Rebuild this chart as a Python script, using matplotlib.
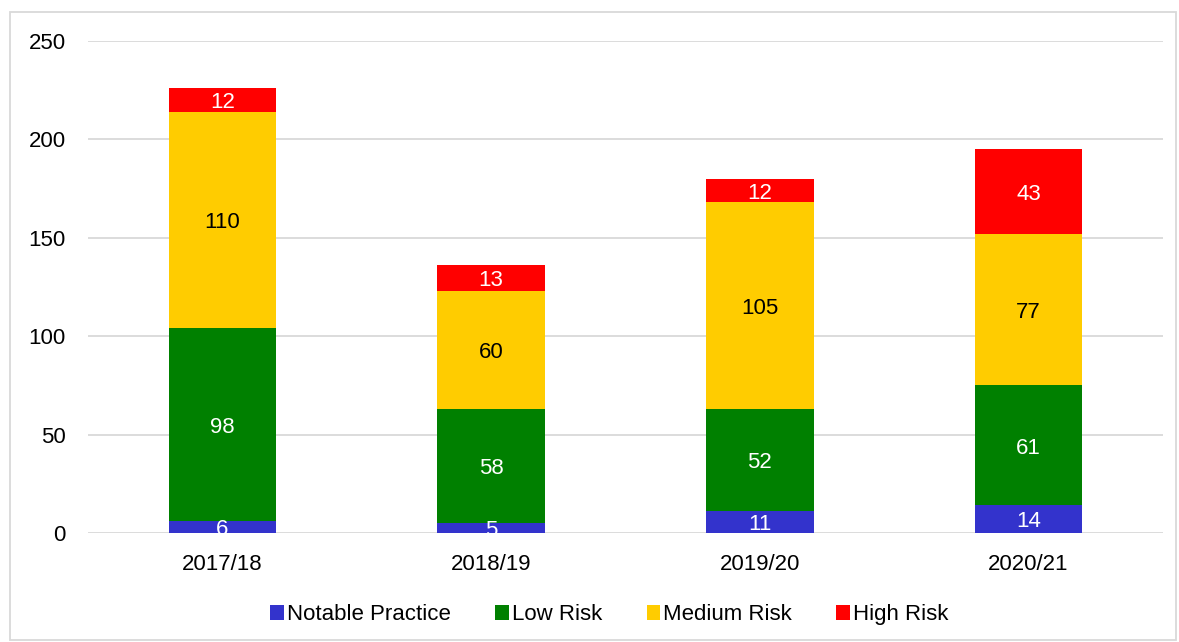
import matplotlib.pyplot as plt
import numpy as np
from matplotlib.patches import Rectangle

plt.rcParams['font.family'] = ['Liberation Sans', 'DejaVu Sans']

years = ['2017/18', '2018/19', '2019/20', '2020/21']
notable = [6, 5, 11, 14]
low = [98, 58, 52, 61]
medium = [110, 60, 105, 77]
high = [12, 13, 12, 43]

series = [
    ('Notable Practice', notable, '#3333CC', 'white'),
    ('Low Risk', low, '#008000', 'white'),
    ('Medium Risk', medium, '#FFCC00', 'black'),
    ('High Risk', high, '#FF0000', 'white'),
]

fig = plt.figure(figsize=(11.79, 6.42), dpi=100)
ax = fig.add_axes([0.0746, 0.1698, 0.9118, 0.7662])

x = np.arange(len(years))
bottom = np.zeros(len(years))
for name, vals, color, txt in series:
    bars = ax.bar(x, vals, 0.4, bottom=bottom, color=color, label=name, zorder=3)
    for xi, b, v in zip(x, bottom, vals):
        ax.annotate(str(v), (xi, b + v / 2), xytext=(0, -2), textcoords='offset points',
                    ha='center', va='center', color=txt, fontsize=16, zorder=4)
    bottom += np.array(vals)

ax.set_xlim(-0.5, 3.5)
ax.set_ylim(0, 250)
ax.set_yticks(range(0, 251, 50))
ax.set_xticks(x)
ax.set_xticklabels(years)
ax.tick_params(length=0, labelsize=16)
ax.tick_params(axis='y', pad=16)
ax.tick_params(axis='x', pad=15)
ax.grid(axis='y', color='#D9D9D9', linewidth=1.3, zorder=0)
for s in ax.spines.values():
    s.set_visible(False)

ax.legend(loc='upper center', bbox_to_anchor=(0.485, -0.104), ncol=4, frameon=False,
          fontsize=16, handlelength=0.6, handleheight=0.7, handletextpad=0.15,
          columnspacing=2.0)

fig.patches.append(Rectangle((10 / 1179, 2 / 642), 1166 / 1179, 628 / 642,
                             transform=fig.transFigure, fill=False,
                             edgecolor='#D9D9D9', linewidth=1.3))

fig.savefig('out.png')
